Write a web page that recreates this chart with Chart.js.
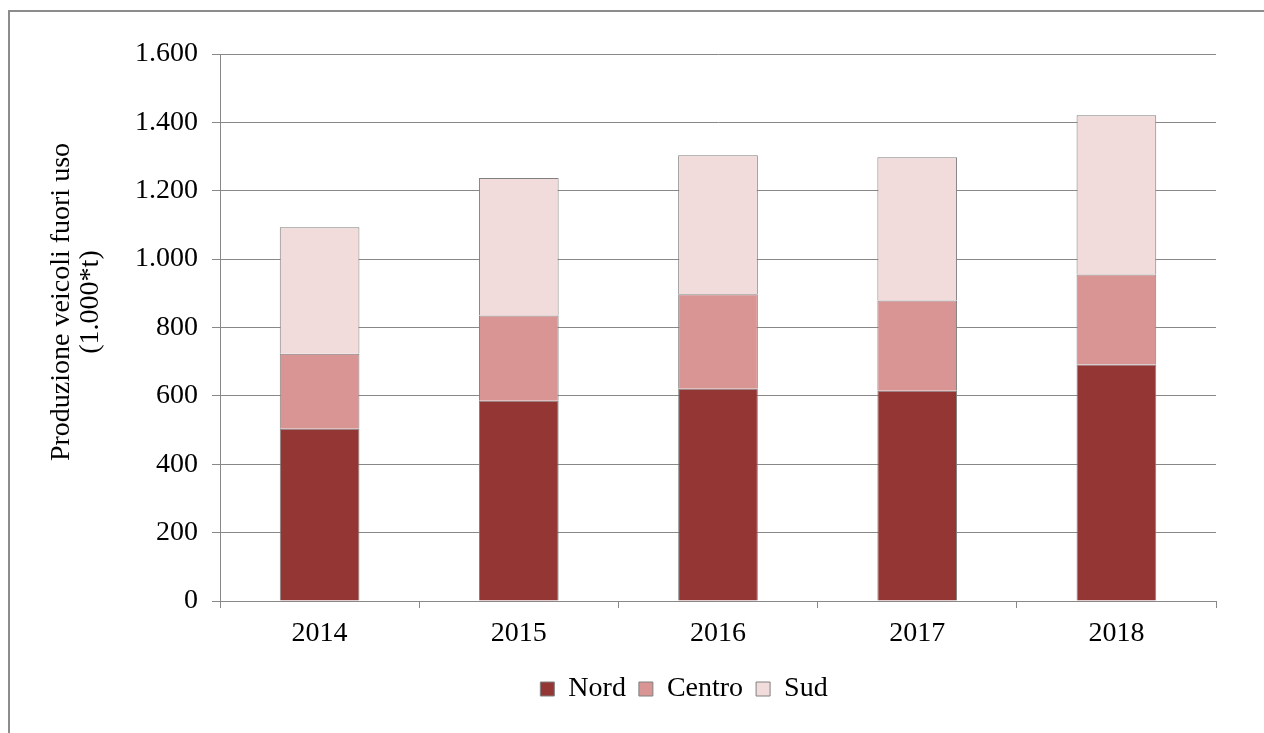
<!DOCTYPE html>
<html>
<head>
<meta charset="utf-8">
<script src="https://cdn.jsdelivr.net/npm/chart.js@4/dist/chart.umd.min.js"></script>
<style>
html,body{margin:0;padding:0;background:#fff;}
#wrap{position:absolute;left:0;top:0;width:1264px;height:733px;}
</style>
</head>
<body>
<div id="wrap"><canvas id="c" width="1264" height="733"></canvas></div>
<script>
const categories = ["2014", "2015", "2016", "2017", "2018"];
const nord = [504, 586, 621, 615, 692];
const centro = [219, 249, 276, 264, 263];
const sud = [370, 402, 407, 419, 466];
const yTicks = [0, 200, 400, 600, 800, 1000, 1200, 1400, 1600];
const yTitle = ['Produzione veicoli fuori uso', '(1.000*t)'];

const FONT = "'Liberation Serif', 'Times New Roman', serif";

const framePlugin = {
  id: 'frame',
  beforeDraw(chart) {
    const ctx = chart.ctx;
    ctx.save();
    ctx.fillStyle = '#fff';
    ctx.fillRect(0, 0, chart.width, chart.height);
    ctx.strokeStyle = '#8c8c8c';
    ctx.lineWidth = 2;
    ctx.strokeRect(9, 11, 1300, 800);
    ctx.restore();
  },
  afterLayout(chart) {
    const lg = chart.legend;
    if (lg) {
      const shift = 76;
      lg.left += shift;
      lg.right += shift;
    }
  },
  afterDraw(chart) {
    const ctx = chart.ctx;
    ctx.save();
    ctx.font = "28px " + FONT;
    ctx.fillStyle = '#000';
    ctx.textAlign = 'center';
    ctx.textBaseline = 'middle';
    const cy = 302;
    const xs = [62, 91];
    yTitle.forEach((line, i) => {
      ctx.save();
      ctx.translate(xs[i], cy);
      ctx.rotate(-Math.PI / 2);
      ctx.fillText(line, 0, 0);
      ctx.restore();
    });
    ctx.restore();
  }
};

new Chart(document.getElementById('c'), {
  type: 'bar',
  data: {
    labels: categories,
    datasets: [
      {label: 'Nord', data: nord, backgroundColor: '#943634', borderColor: '#808080', borderWidth: 1},
      {label: 'Centro', data: centro, backgroundColor: '#D99594', borderColor: '#808080', borderWidth: 1},
      {label: 'Sud', data: sud, backgroundColor: '#F2DCDB', borderColor: '#808080', borderWidth: 1}
    ]
  },
  options: {
    responsive: false,
    animation: false,
    layout: {padding: {left: 0, top: 54, right: 48, bottom: 20}},
    datasets: {bar: {barPercentage: 0.4, categoryPercentage: 1.0}},
    plugins: {
      legend: {
        position: 'bottom',
        labels: {
          font: {family: FONT, size: 28},
          color: '#000',
          boxWidth: 14,
          boxHeight: 14,
          padding: 13
        }
      },
      tooltip: {enabled: false}
    },
    scales: {
      x: {
        stacked: true,
        grid: {display: true, drawOnChartArea: false, drawTicks: true, tickLength: 7, color: '#888', offset: true},
        border: {display: true, color: '#888', width: 1},
        ticks: {font: {family: FONT, size: 28}, color: '#000', padding: 9},
        afterFit(scale) { scale.height = 61; }
      },
      y: {
        stacked: true,
        min: 0,
        max: 1600,
        afterBuildTicks(scale) { scale.ticks = yTicks.map(v => ({value: v})); },
        grid: {color: '#888', lineWidth: 1, tickLength: 8},
        border: {display: true, color: '#888', width: 1},
        ticks: {
          font: {family: FONT, size: 28},
          color: '#000',
          padding: 14,
          callback(v) { return v.toLocaleString('it-IT'); }
        },
        title: {display: false},
        afterFit(scale) { scale.width = 220; }
      }
    }
  },
  plugins: [framePlugin]
});
</script>
</body>
</html>
